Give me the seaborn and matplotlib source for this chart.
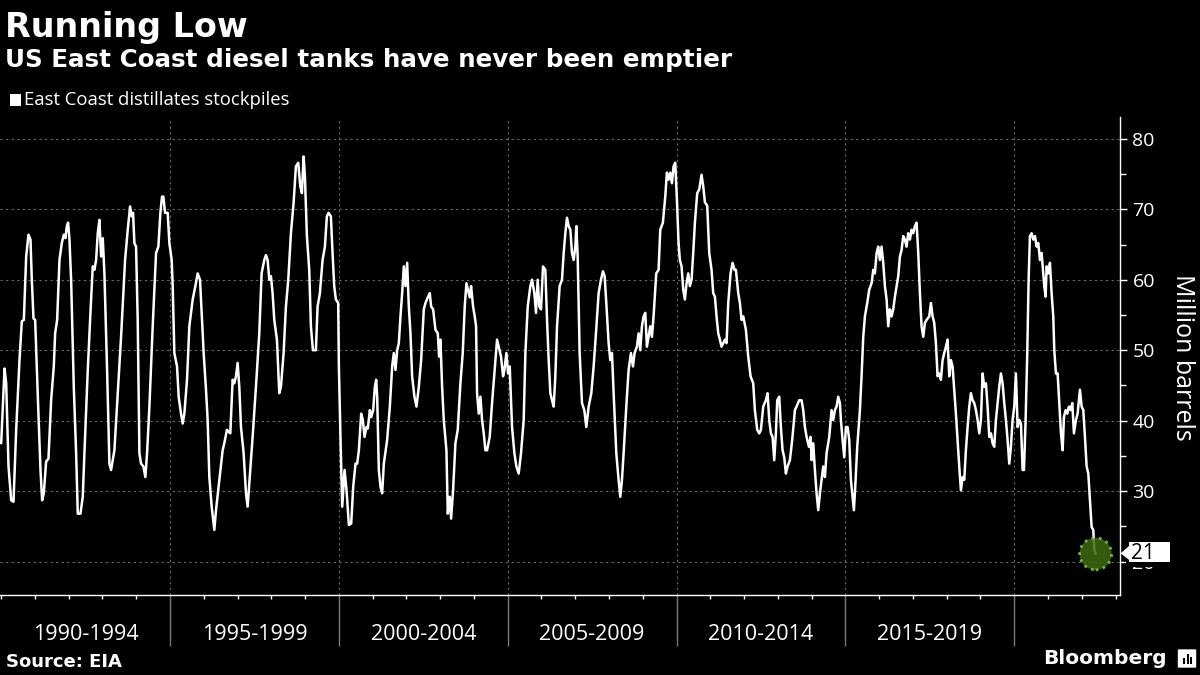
import pandas as pd
import matplotlib
matplotlib.use("Agg")
import matplotlib.pyplot as plt
import seaborn as sns
from matplotlib.ticker import FixedLocator, MultipleLocator, NullFormatter
from matplotlib.patches import Rectangle, FancyBboxPatch, Polygon
from matplotlib.transforms import Affine2D, ScaledTranslation

# East Coast distillate stocks, million barrels (year as decimal)
pts_1990s = [
    (1990.000, 36.8), (1990.099, 47.4), (1990.148, 45.3), (1990.217, 33.5), (1990.296, 28.7), (1990.365, 28.5),
    (1990.444, 38.7), (1990.542, 48.6), (1990.611, 54.1), (1990.671, 54.3), (1990.740, 63.3), (1990.809, 66.4),
    (1990.868, 65.7), (1990.907, 60.0), (1990.957, 54.5), (1991.006, 54.3), (1991.085, 43.4), (1991.164, 33.0),
    (1991.213, 28.7), (1991.262, 29.7), (1991.331, 34.2), (1991.400, 34.6), (1991.479, 42.9), (1991.558, 47.7),
    (1991.598, 52.4), (1991.657, 54.3), (1991.726, 62.8), (1991.795, 65.2), (1991.854, 66.4), (1991.903, 65.9),
    (1991.943, 67.6), (1991.982, 68.1), (1992.022, 65.7), (1992.071, 60.0), (1992.150, 44.8), (1992.219, 35.4),
    (1992.268, 26.8), (1992.347, 26.8), (1992.416, 29.2), (1992.465, 35.4), (1992.564, 47.2), (1992.643, 55.3),
    (1992.712, 61.9), (1992.761, 61.4), (1992.811, 62.8), (1992.860, 66.6), (1992.909, 68.5), (1992.959, 63.3),
    (1993.008, 65.9), (1993.057, 60.9), (1993.136, 47.2), (1993.205, 33.9), (1993.254, 33.0), (1993.304, 34.4),
    (1993.353, 35.8), (1993.452, 43.9), (1993.550, 51.9), (1993.669, 62.8), (1993.748, 67.1), (1993.817, 70.4),
    (1993.866, 69.0), (1993.905, 69.5), (1993.945, 65.2), (1993.994, 64.7), (1994.043, 54.3), (1994.093, 35.4),
    (1994.142, 33.9), (1994.211, 33.5), (1994.270, 32.0), (1994.320, 35.4), (1994.389, 42.0), (1994.487, 53.4),
    (1994.586, 63.8), (1994.655, 64.7), (1994.714, 69.5), (1994.763, 71.8), (1994.803, 71.8), (1994.852, 69.5),
    (1994.931, 69.5), (1994.980, 65.2), (1995.049, 62.8), (1995.079, 59.1), (1995.128, 49.6), (1995.207, 47.7),
    (1995.256, 43.4), (1995.325, 41.0), (1995.375, 39.6), (1995.424, 41.0), (1995.503, 45.8), (1995.572, 53.4),
    (1995.671, 57.2), (1995.750, 59.1), (1995.819, 60.9), (1995.888, 60.0), (1995.937, 55.3), (1995.996, 49.6),
    (1996.065, 44.4), (1996.114, 40.1), (1996.164, 32.0), (1996.233, 27.8), (1996.312, 24.5), (1996.361, 27.3),
    (1996.460, 31.6), (1996.558, 35.8), (1996.607, 36.8), (1996.686, 38.7), (1996.785, 38.2), (1996.854, 45.8),
    (1996.903, 45.3), (1996.953, 46.3), (1997.002, 48.2), (1997.051, 44.8), (1997.101, 39.1), (1997.179, 35.4),
    (1997.249, 29.7), (1997.298, 27.8), (1997.377, 33.0), (1997.446, 37.7), (1997.544, 44.8), (1997.643, 52.4),
    (1997.712, 60.9), (1997.791, 62.8), (1997.840, 63.5), (1997.890, 62.8), (1997.939, 60.0), (1997.988, 60.5),
    (1998.037, 58.1), (1998.087, 54.3), (1998.166, 51.5), (1998.235, 43.9), (1998.284, 44.8), (1998.363, 49.6),
    (1998.432, 56.2), (1998.501, 60.0), (1998.580, 66.6), (1998.659, 70.9), (1998.728, 76.1), (1998.797, 76.6),
    (1998.856, 73.3), (1998.905, 72.3), (1998.955, 77.5), (1998.994, 74.7), (1999.053, 66.2), (1999.122, 61.4),
    (1999.172, 53.4), (1999.231, 50.0), (1999.320, 50.0), (1999.369, 56.2), (1999.438, 58.1), (1999.517, 62.8),
    (1999.586, 64.7), (1999.645, 69.0), (1999.694, 69.5), (1999.763, 69.0), (1999.813, 63.8), (1999.862, 59.1),
    (1999.911, 57.2), (1999.980, 56.7),
]

pts_2000s = [
    (2000.000, 47.7), (2000.049, 37.3), (2000.099, 27.8), (2000.168, 33.0), (2000.227, 30.1), (2000.296, 25.2),
    (2000.365, 25.4), (2000.424, 30.6), (2000.493, 33.9), (2000.542, 33.9), (2000.592, 35.8), (2000.661, 41.0),
    (2000.710, 40.1), (2000.759, 37.7), (2000.818, 39.1), (2000.858, 38.9), (2000.917, 41.5), (2000.957, 40.5),
    (2001.016, 41.5), (2001.065, 44.8), (2001.105, 45.8), (2001.134, 43.4), (2001.183, 33.0), (2001.233, 30.6),
    (2001.282, 29.7), (2001.331, 33.9), (2001.430, 37.3), (2001.509, 42.0), (2001.578, 47.7), (2001.627, 49.6),
    (2001.676, 47.2), (2001.726, 50.0), (2001.775, 51.0), (2001.824, 54.8), (2001.874, 58.1), (2001.923, 61.9),
    (2001.972, 59.1), (2002.022, 62.4), (2002.071, 56.2), (2002.120, 52.4), (2002.169, 46.3), (2002.238, 43.4),
    (2002.298, 42.0), (2002.367, 44.8), (2002.436, 48.6), (2002.515, 55.8), (2002.564, 56.7), (2002.633, 57.5),
    (2002.692, 58.1), (2002.732, 56.2), (2002.791, 55.8), (2002.860, 52.9), (2002.929, 52.4), (2002.968, 49.1),
    (2003.008, 51.5), (2003.057, 44.8), (2003.106, 40.1), (2003.185, 35.8), (2003.225, 26.8), (2003.284, 29.2),
    (2003.323, 26.1), (2003.382, 30.1), (2003.451, 36.8), (2003.520, 38.7), (2003.599, 45.3), (2003.668, 49.6),
    (2003.727, 56.2), (2003.777, 59.5), (2003.826, 58.5), (2003.875, 57.5), (2003.915, 59.1), (2003.974, 56.2),
    (2004.023, 54.8), (2004.063, 53.4), (2004.092, 43.9), (2004.142, 41.0), (2004.191, 43.4), (2004.240, 40.1),
    (2004.290, 38.2), (2004.339, 35.8), (2004.388, 35.8), (2004.467, 37.7), (2004.536, 42.5), (2004.605, 46.7),
    (2004.684, 51.5), (2004.733, 50.5), (2004.802, 49.1), (2004.862, 46.3), (2004.901, 47.2), (2004.960, 49.6),
    (2005.010, 46.7), (2005.059, 47.7), (2005.128, 39.1), (2005.197, 35.4), (2005.256, 33.5), (2005.325, 32.5),
    (2005.394, 35.4), (2005.473, 40.1), (2005.523, 49.6), (2005.592, 56.2), (2005.670, 59.1), (2005.720, 60.0),
    (2005.789, 58.1), (2005.838, 55.3), (2005.887, 60.0), (2005.937, 56.2), (2005.986, 55.8), (2006.045, 61.9),
    (2006.114, 61.4), (2006.164, 54.3), (2006.213, 48.6), (2006.262, 43.9), (2006.312, 42.9), (2006.361, 42.0),
    (2006.410, 46.3), (2006.460, 53.4), (2006.538, 59.1), (2006.607, 60.0), (2006.657, 63.8), (2006.706, 66.6),
    (2006.755, 68.8), (2006.805, 67.6), (2006.854, 67.1), (2006.903, 63.8), (2006.953, 62.8), (2007.002, 64.7),
    (2007.032, 67.6), (2007.071, 63.3), (2007.130, 49.6), (2007.199, 42.5), (2007.268, 41.5), (2007.327, 39.1),
    (2007.397, 42.0), (2007.475, 43.9), (2007.544, 47.7), (2007.613, 52.4), (2007.692, 58.1), (2007.761, 60.0),
    (2007.820, 61.2), (2007.870, 60.5), (2007.919, 56.7), (2007.988, 51.0), (2008.037, 48.6), (2008.087, 49.6),
    (2008.136, 43.9), (2008.215, 35.4), (2008.284, 31.6), (2008.333, 29.2), (2008.383, 31.6), (2008.432, 35.4),
    (2008.511, 42.0), (2008.580, 47.2), (2008.649, 49.6), (2008.708, 47.7), (2008.757, 49.6), (2008.826, 50.5),
    (2008.876, 52.4), (2008.925, 50.0), (2008.974, 53.4), (2009.024, 54.8), (2009.073, 55.3), (2009.122, 50.5),
    (2009.171, 51.9), (2009.221, 53.4), (2009.270, 51.9), (2009.319, 54.8), (2009.398, 60.9), (2009.467, 61.4),
    (2009.517, 67.1), (2009.595, 68.1), (2009.665, 71.8), (2009.714, 75.2), (2009.763, 74.2), (2009.812, 75.2),
    (2009.862, 73.7), (2009.911, 76.1), (2009.960, 76.6), (2010.010, 71.4), (2010.059, 65.2),
]

pts_2010s = [
    (2010.098, 62.8), (2010.148, 61.9), (2010.197, 58.6), (2010.246, 57.2), (2010.296, 59.5), (2010.345, 60.9),
    (2010.394, 59.1), (2010.444, 60.0), (2010.493, 63.8), (2010.543, 68.1), (2010.612, 72.3), (2010.671, 72.8),
    (2010.740, 74.9), (2010.789, 73.3), (2010.839, 71.0), (2010.908, 70.5), (2010.967, 63.8), (2011.036, 61.4),
    (2011.085, 58.1), (2011.135, 57.6), (2011.184, 54.8), (2011.234, 52.4), (2011.283, 51.5), (2011.332, 50.5),
    (2011.382, 51.0), (2011.431, 51.5), (2011.480, 51.0), (2011.530, 56.7), (2011.599, 60.9), (2011.658, 62.4),
    (2011.717, 61.4), (2011.757, 61.4), (2011.826, 58.1), (2011.875, 56.7), (2011.925, 54.3), (2011.974, 54.8),
    (2012.053, 52.9), (2012.122, 49.1), (2012.191, 46.3), (2012.270, 45.3), (2012.319, 41.5), (2012.388, 38.7),
    (2012.448, 38.2), (2012.497, 38.7), (2012.566, 42.0), (2012.645, 42.9), (2012.695, 43.9), (2012.744, 40.1),
    (2012.793, 38.2), (2012.843, 37.7), (2012.892, 34.4), (2012.941, 38.2), (2012.981, 42.9), (2013.040, 43.4),
    (2013.089, 39.1), (2013.139, 35.8), (2013.188, 34.8), (2013.237, 32.5), (2013.287, 33.5), (2013.356, 34.4),
    (2013.425, 37.3), (2013.504, 41.5), (2013.553, 42.0), (2013.632, 42.9), (2013.701, 42.9), (2013.751, 41.5),
    (2013.800, 39.1), (2013.850, 37.7), (2013.919, 36.3), (2013.968, 37.7), (2013.998, 34.4), (2014.047, 36.8),
    (2014.096, 33.0), (2014.146, 29.7), (2014.195, 27.3), (2014.245, 29.7), (2014.294, 31.6), (2014.343, 33.5),
    (2014.393, 32.0), (2014.442, 35.4), (2014.521, 37.7), (2014.590, 41.5), (2014.639, 40.1), (2014.689, 41.5),
    (2014.738, 42.0), (2014.787, 43.4), (2014.837, 42.5), (2014.866, 40.1), (2014.916, 37.3), (2014.965, 34.8),
    (2015.014, 39.1), (2015.064, 39.1), (2015.113, 37.3), (2015.162, 31.6), (2015.212, 29.2), (2015.251, 27.3),
    (2015.291, 30.6), (2015.350, 36.3), (2015.429, 41.5), (2015.478, 46.3), (2015.528, 51.9), (2015.577, 54.8),
    (2015.646, 56.7), (2015.705, 58.6), (2015.775, 59.5), (2015.824, 61.4), (2015.873, 60.9), (2015.923, 63.8),
    (2015.972, 64.7), (2016.021, 62.8), (2016.071, 64.7), (2016.120, 62.4), (2016.169, 59.1), (2016.219, 57.2),
    (2016.268, 53.4), (2016.317, 55.8), (2016.367, 54.8), (2016.416, 55.8), (2016.466, 57.6), (2016.515, 59.1),
    (2016.564, 60.5), (2016.614, 63.3), (2016.663, 64.2), (2016.712, 66.2), (2016.762, 65.7), (2016.811, 64.7),
    (2016.860, 66.6), (2016.910, 65.7), (2016.959, 67.1), (2017.008, 66.6), (2017.058, 67.6), (2017.107, 68.1),
    (2017.157, 63.8), (2017.206, 58.1), (2017.255, 53.4), (2017.305, 51.9), (2017.354, 53.9), (2017.403, 54.3),
    (2017.482, 54.8), (2017.532, 56.7), (2017.581, 54.8), (2017.630, 53.9), (2017.680, 51.0), (2017.729, 46.3),
    (2017.778, 46.7), (2017.828, 45.8), (2017.877, 48.6), (2017.926, 49.6), (2017.976, 50.5), (2018.025, 51.5),
    (2018.075, 46.3), (2018.124, 48.6), (2018.173, 47.7), (2018.223, 44.4), (2018.272, 41.0), (2018.321, 37.3),
    (2018.371, 33.5), (2018.420, 30.1), (2018.470, 32.0), (2018.519, 31.6), (2018.568, 35.8), (2018.618, 39.1),
    (2018.667, 42.0), (2018.716, 43.9), (2018.766, 42.9), (2018.815, 42.5), (2018.865, 41.5), (2018.914, 40.1),
    (2018.963, 38.2), (2019.013, 40.1), (2019.062, 46.7), (2019.111, 44.8), (2019.161, 45.3), (2019.210, 42.0),
    (2019.259, 37.7), (2019.309, 38.2), (2019.358, 36.8), (2019.407, 36.3), (2019.457, 40.1), (2019.506, 42.5),
    (2019.555, 44.8), (2019.605, 46.7), (2019.654, 45.3), (2019.704, 42.5), (2019.753, 40.1), (2019.802, 37.3),
    (2019.852, 33.9), (2019.901, 36.3), (2019.950, 40.1), (2020.000, 42.0), (2020.049, 46.7),
]

pts_2020s = [
    (2020.099, 39.1), (2020.149, 40.1), (2020.198, 39.6), (2020.247, 33.0), (2020.287, 33.0), (2020.336, 40.1),
    (2020.385, 49.6), (2020.425, 60.0), (2020.464, 66.2), (2020.514, 66.6), (2020.563, 65.7), (2020.613, 66.2),
    (2020.662, 64.7), (2020.711, 65.2), (2020.761, 62.8), (2020.810, 63.8), (2020.859, 60.9), (2020.889, 59.1),
    (2020.928, 57.6), (2020.958, 61.9), (2021.007, 60.9), (2021.057, 62.4), (2021.106, 58.1), (2021.155, 54.8),
    (2021.185, 50.0), (2021.234, 46.7), (2021.284, 46.7), (2021.333, 42.5), (2021.383, 38.2), (2021.432, 35.8),
    (2021.471, 40.5), (2021.521, 41.5), (2021.570, 41.0), (2021.619, 42.0), (2021.669, 41.5), (2021.718, 42.5),
    (2021.767, 38.2), (2021.827, 40.1), (2021.876, 41.0), (2021.945, 44.4), (2021.995, 42.0), (2022.044, 41.5),
    (2022.093, 37.7), (2022.143, 33.5), (2022.192, 32.5), (2022.241, 28.7), (2022.291, 24.9), (2022.340, 24.5),
    (2022.370, 21.6), (2022.409, 21.1),
]

period_labels = ["1990-1994", "1995-1999", "2000-2004", "2005-2009", "2010-2014", "2015-2019"]
period_starts = [1990, 1995, 2000, 2005, 2010, 2015]
period_breaks = [1995, 2000, 2005, 2010, 2015, 2020]
last_label = "21"

df = pd.DataFrame(pts_1990s + pts_2000s + pts_2010s + pts_2020s, columns=["year", "stocks"])

sns.set_theme(style="ticks")
plt.rcParams['font.family'] = ['Open Sans', 'DejaVu Sans']

fig = plt.figure(figsize=(12, 6.75), dpi=100, facecolor="black")
ax = fig.add_axes([0.0, 0.1185, 0.9333, 0.7082])
ax.set_facecolor("black")

sns.lineplot(data=df, x="year", y="stocks", color="white", lw=1.8,
             estimator=None, sort=False, ax=ax, zorder=3)

ax.set_xlim(1989.965, 2023.13)
ax.set_ylim(15.26, 83.1)

# last point marker
last = df.iloc[-1]
ax.scatter([last["year"]], [last["stocks"]], s=23 ** 2, color="#3f6a10", alpha=0.85,
           edgecolors="#8dc63f", linewidths=2, linestyle=":", zorder=4)

# callout next to the last point (offsets in points from the point)
pt_tr = (Affine2D().scale(1 / 72) + fig.dpi_scale_trans
         + ScaledTranslation(last["year"], last["stocks"], ax.transData))
# the "20" tick label sits behind the callout, only its bottom edge shows
ax.add_patch(Rectangle((21.6, -9.4), 33.1, 4, transform=pt_tr, fc="black", ec="none",
                       clip_on=False, zorder=9))
ax.add_patch(Rectangle((23.76, -5.76), 29.5, 14.4, transform=pt_tr, fc="white", ec="none",
                       clip_on=False, zorder=10))
ax.add_patch(Polygon([(18, 0.36), (24.5, 6.1), (24.5, -4.7)], closed=True, transform=pt_tr,
                     fc="white", ec="none", clip_on=False, zorder=10))
ax.text(34.2, 0.36, last_label, transform=pt_tr, ha="center", va="center",
        fontsize=15, color="black", clip_on=False, zorder=11)

# x axis: long grey separators at 5-year breaks, small white ticks each year
ax.xaxis.set_major_locator(FixedLocator(period_breaks))
ax.xaxis.set_minor_locator(MultipleLocator(1))
ax.xaxis.set_major_formatter(NullFormatter())
ax.tick_params(axis="x", which="major", length=37, width=1, color="#7a7a7a", direction="out")
ax.tick_params(axis="x", which="minor", length=3, width=1, color="white", direction="out")

# y axis on the right
ax.yaxis.tick_right()
ax.set_yticks(range(20, 81, 10))
ax.yaxis.set_minor_locator(FixedLocator(range(25, 80, 10)))
ax.tick_params(axis="y", which="major", length=5, width=1, color="white",
               labelcolor="white", labelsize=14, pad=4, direction="out")
ax.tick_params(axis="y", which="minor", length=4, width=1, color="white", direction="out")

ax.set_axisbelow(True)
ax.grid(True, which="major", color="#6a6a6a", linestyle=(0, (2, 3)), linewidth=0.8)

for side in ["left", "top"]:
    ax.spines[side].set_visible(False)
for side in ["right", "bottom"]:
    ax.spines[side].set_color("white")
    ax.spines[side].set_linewidth(1)

ax.set_xlabel("")
ax.set_ylabel("")

for start, lab in zip(period_starts, period_labels):
    ax.text(start + 2.5, -0.0816, lab, transform=ax.get_xaxis_transform(),
            ha="center", va="center", color="white", fontsize=15.5)

# titles and legend
fig.text(5 / 1200, 1 - 37 / 675, "Running Low", color="white", fontsize=24,
         fontweight="bold", family="DejaVu Sans", va="baseline")
fig.text(5 / 1200, 1 - 67 / 675, "US East Coast diesel tanks have never been emptier",
         color="white", fontsize=17.7, fontweight="bold", family="DejaVu Sans", va="baseline")
fig.patches.append(Rectangle((10 / 1200, 1 - 106 / 675), 11 / 1200, 12 / 675,
                             transform=fig.transFigure, fc="white", ec="none"))
fig.text(24 / 1200, 1 - 100 / 675, "East Coast distillates stockpiles", color="white",
         fontsize=13.3, va="center")

fig.text(1183 / 1200, 1 - 357 / 675, "Million barrels", color="white", fontsize=18,
         rotation=270, ha="center", va="center")

fig.text(6 / 1200, 1 - 662 / 675, "Source: EIA", color="white", fontsize=13,
         fontweight="bold", family="DejaVu Sans", va="center")
fig.text(1167 / 1200, 1 - 658 / 675, "Bloomberg", color="white", fontsize=14.5,
         fontweight="bold", family="DejaVu Sans", ha="right", va="center")

# small logo box
fig.patches.append(FancyBboxPatch((1179 / 1200, 1 - 667 / 675), 16 / 1200, 17 / 675,
                                  boxstyle="round,pad=0.001", transform=fig.transFigure,
                                  fc="white", ec="none"))
for bx, bh in [(1183, 6), (1186.5, 10), (1190, 7)]:
    fig.patches.append(Rectangle((bx / 1200, 1 - 664 / 675), 2 / 1200, bh / 675,
                                 transform=fig.transFigure, fc="black", ec="none"))

fig.savefig("out.png", dpi=100, facecolor="black")
